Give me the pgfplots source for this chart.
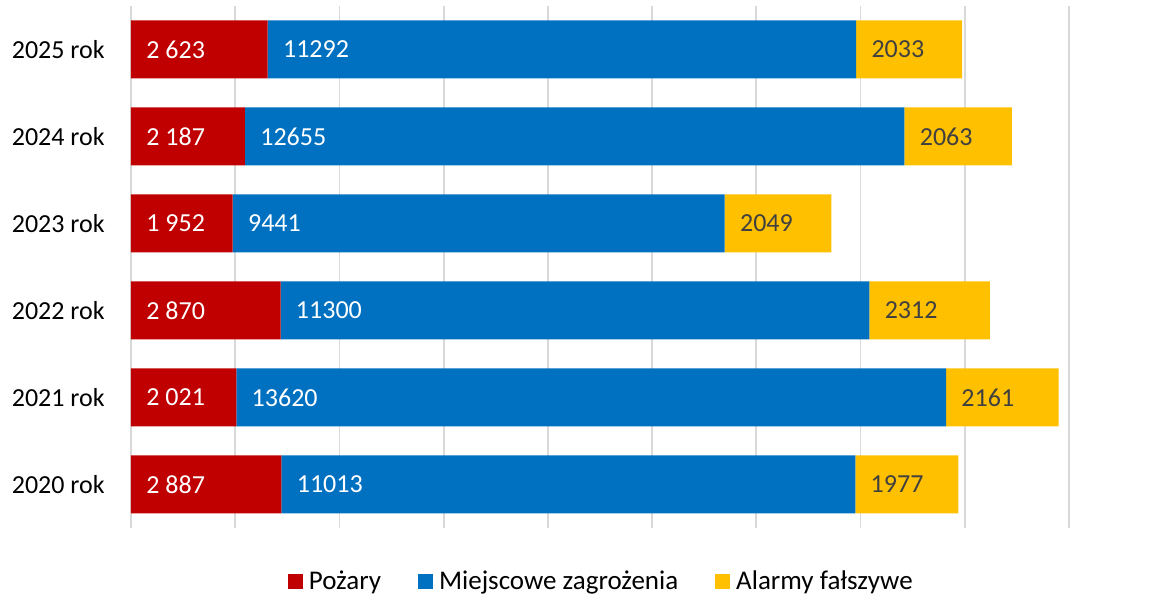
\documentclass[border=0pt]{standalone}
\usepackage{fontspec}
\setmainfont{Carlito}
\usepackage{pgfplots}
\pgfplotsset{compat=1.18}
\definecolor{cRed}{HTML}{C00000}
\definecolor{cBlue}{HTML}{0070C0}
\definecolor{cYel}{HTML}{FFC000}
\definecolor{cGrid}{HTML}{D9D9D9}
\definecolor{cTxt}{HTML}{404040}
\begin{document}
\begin{tikzpicture}[font=\fontsize{13}{15.6}\selectfont]
\useasboundingbox (-65.5pt,-34.5pt) rectangle (518.5pt,264pt);
\pgfplotsset{base/.style={
  width=469pt, height=261pt, scale only axis,
  at={(0,0)}, anchor=south west,
  xmin=0, xmax=18000, ymin=-0.5, ymax=5.5,
  scaled x ticks=false,
}}
\begin{axis}[base,
  xbar stacked, bar width=29pt,
  axis line style={draw=none},
  major tick length=0pt,
  xtick={0,2000,...,18000}, xticklabels={},
  xmajorgrids, grid style={cGrid, line width=0.9pt},
  ytick={0,1,2,3,4,5},
  yticklabels={2020 rok,2021 rok,2022 rok,2023 rok,2024 rok,2025 rok},
  yticklabel style={inner sep=0pt, xshift=-13pt, text=black},
  legend columns=3,
  legend style={draw=none, at={(axis description cs:0.5035,-0.1034)}, anchor=center,
    font=\fontsize{13.5}{16}\selectfont,
    /tikz/every even column/.append style={column sep=15.5pt},
    nodes={inner xsep=3pt, inner ysep=1pt}},
  legend image code/.code={\fill[#1] (0pt,-3.75pt) rectangle (7.5pt,3.75pt);},
]
\addplot[fill=cRed, draw=none] coordinates {(2887,0) (2021,1) (2870,2) (1952,3) (2187,4) (2623,5)};
\addplot[fill=cBlue, draw=none] coordinates {(11013,0) (13620,1) (11300,2) (9441,3) (12655,4) (11292,5)};
\addplot[fill=cYel, draw=none] coordinates {(1977,0) (2161,1) (2312,2) (2049,3) (2063,4) (2033,5)};
\legend{Pożary, Miejscowe zagrożenia, Alarmy fałszywe}
\end{axis}
\begin{axis}[base, hide axis, clip=false,
  nodes near coords={\pgfplotspointmeta},
  point meta=explicit symbolic,
  nodes near coords style={anchor=west, inner sep=0pt, xshift=7.5pt},
]
\addplot[draw=none, mark=none, nodes near coords style={text=white}] coordinates {
 (0,0) [2 887] (0,1) [2 021] (0,2) [2 870] (0,3) [1 952] (0,4) [2 187] (0,5) [2 623]};
\addplot[draw=none, mark=none, nodes near coords style={text=white}] coordinates {
 (2887,0) [11013] (2021,1) [13620] (2870,2) [11300] (1952,3) [9441] (2187,4) [12655] (2623,5) [11292]};
\addplot[draw=none, mark=none, nodes near coords style={text=cTxt}] coordinates {
 (13900,0) [1977] (15641,1) [2161] (14170,2) [2312] (11393,3) [2049] (14842,4) [2063] (13915,5) [2033]};
\end{axis}
\end{tikzpicture}
\end{document}
